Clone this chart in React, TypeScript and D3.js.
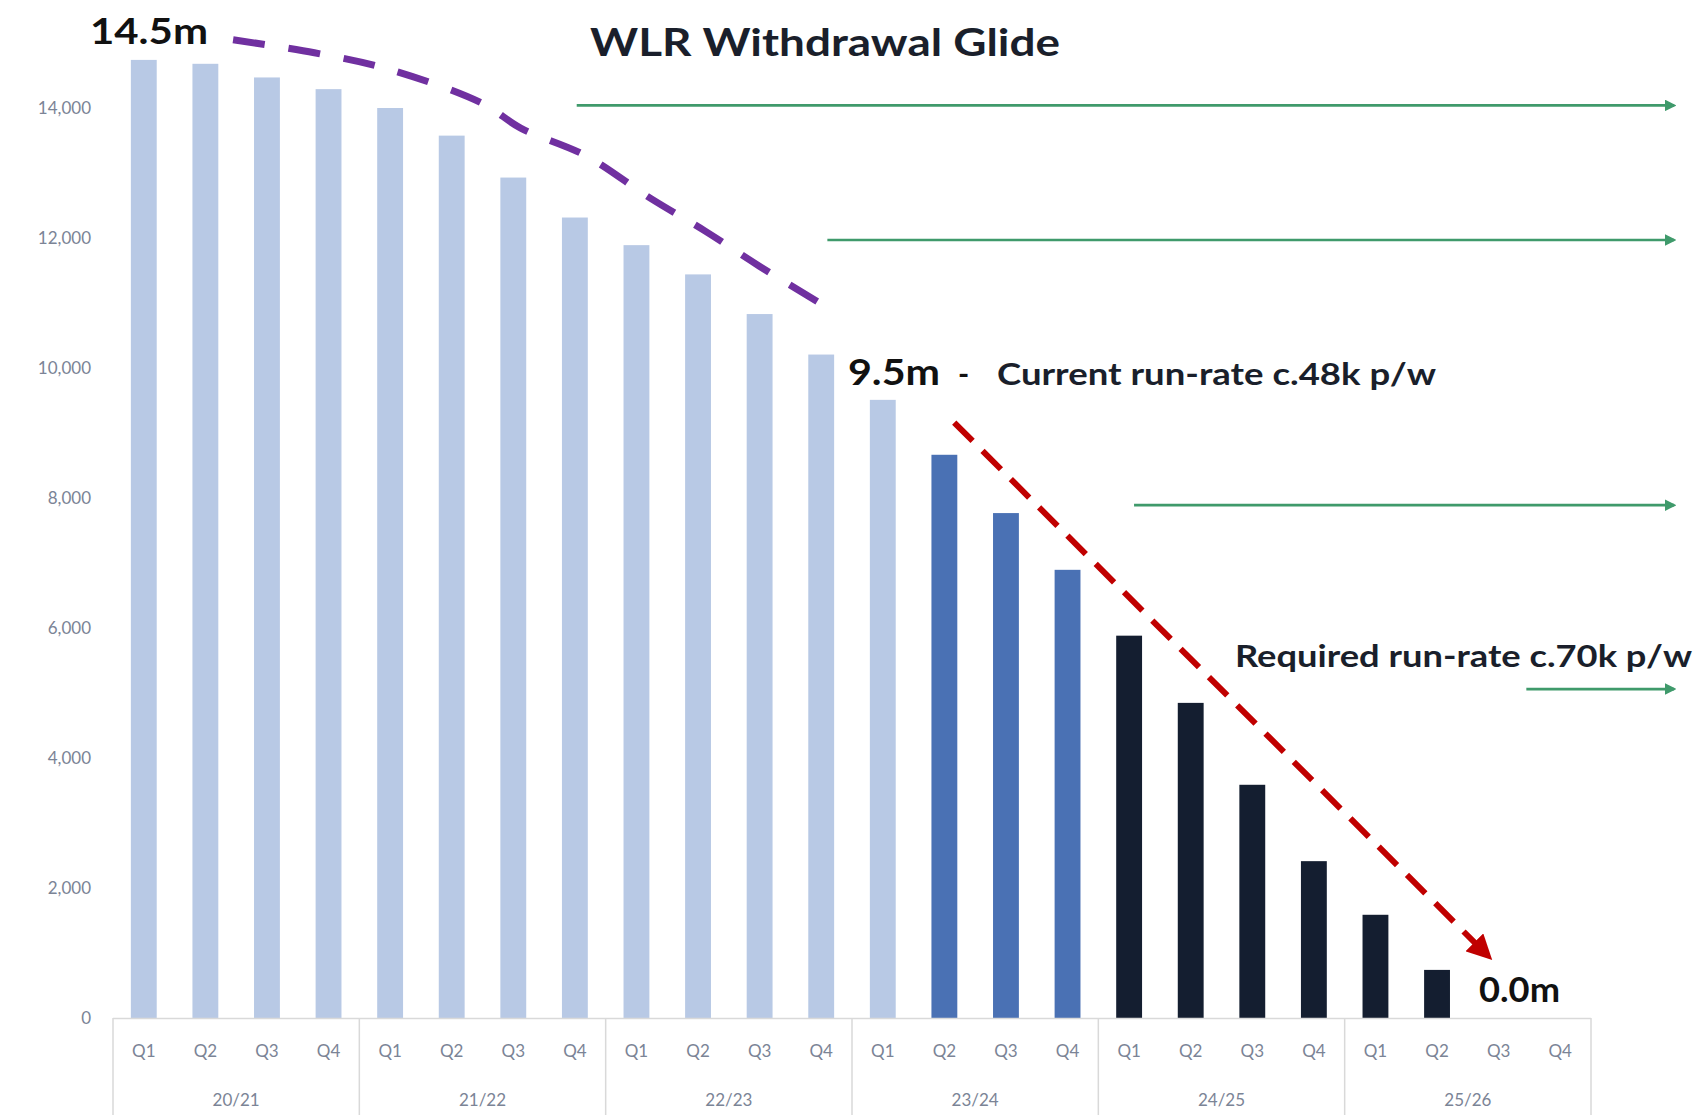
import React from 'react';
import * as d3 from 'd3';

// Chart data
const years = ['20/21', '21/22', '22/23', '23/24', '24/25', '25/26'];
const quarters = ['Q1', 'Q2', 'Q3', 'Q4'];
const lines = [
  14740, 14680, 14470, 14290, 14000, 13575, 12930, 12315, 11890, 11440, 10830, 10207,
  9510, 8665, 7768, 6895, 5882, 4848, 3588, 2413, 1588, 740, 0, 0,
];
// colour phase per bar: 0 = actual, 1 = 23/24 forecast, 2 = required glide
const phase = [0, 0, 0, 0, 0, 0, 0, 0, 0, 0, 0, 0, 0, 1, 1, 1, 2, 2, 2, 2, 2, 2, 2, 2];
const yTicks = [0, 2000, 4000, 6000, 8000, 10000, 12000, 14000];

// hand-drawn annotations, in (bar index, value) terms
const glideIdx = [1.45, 2.77, 4.0, 5.5, 6.12, 7.17, 8.23, 9.11, 9.99, 11.13];
const glideVal = [15050, 14850, 14590, 14070, 13690, 13270, 12610, 12110, 11570, 10910];
const requiredIdx = [13.16, 21.78];
const requiredVal = [9160, 1000];
const greenStart = [7.03, 11.1, 16.08, 22.45];
const greenEnd = 24.98;
const greenVal = [14040, 11970, 7890, 5060];

const colors = ['#b8c9e5', '#4a71b4', '#141e30'];
const font = 'Lato, "Open Sans", sans-serif';

const W = 1699;
const H = 1115;
const left = 113;
const right = 1591;
const base = 1018;

const App = () => {
  const cats = d3.range(lines.length);
  const x = d3.scaleBand<number>().domain(cats).range([left, right]).paddingInner(0.58).paddingOuter(0.29);
  const xi = d3.scaleLinear().domain([-0.5, lines.length - 0.5]).range([left, right]);
  const y = d3.scaleLinear().domain([0, 14000]).range([base, 108]);
  const fmt = d3.format(',');
  const step = x.step();

  const glide = d3
    .line<number>()
    .x((d) => xi(glideIdx[d]))
    .y((d) => y(glideVal[d]))
    .curve(d3.curveCatmullRom)(d3.range(glideIdx.length));

  return (
    <svg width={W} height={H} style={{ position: 'absolute', left: 0, top: 0, background: '#fff' }}>
      <defs>
        <marker id="redHead" viewBox="0 0 10 10" refX="6" refY="5" markerWidth="4.2" markerHeight="4.2" orient="auto" markerUnits="strokeWidth">
          <path d="M0,0 L10,5 L0,10 z" fill="#c00000" />
        </marker>
        <marker id="greenHead" viewBox="0 0 10 10" refX="8" refY="5" markerWidth="4.5" markerHeight="4.5" orient="auto" markerUnits="strokeWidth">
          <path d="M0,0 L10,5 L0,10 z" fill="#3f9a6b" />
        </marker>
      </defs>

      {/* y axis labels */}
      {yTicks.map((t) => (
        <text key={t} x={91} y={y(t)} dy="0.35em" textAnchor="end" fontFamily={font} fontSize={17} fill="#7b8496">
          {fmt(t)}
        </text>
      ))}

      {/* bars */}
      {cats.map((i) => (
        <rect key={i} x={x(i)} y={y(lines[i])} width={x.bandwidth()} height={base - y(lines[i])} fill={colors[phase[i]]} />
      ))}

      {/* category axis table */}
      <line x1={left} x2={right} y1={base + 0.5} y2={base + 0.5} stroke="#d9d9d9" strokeWidth={1.5} />
      {d3.range(years.length + 1).map((g) => (
        <line key={g} x1={left + g * 4 * step} x2={left + g * 4 * step} y1={base} y2={H} stroke="#d9d9d9" strokeWidth={1.5} />
      ))}
      {cats.map((i) => (
        <text key={i} x={x(i)! + x.bandwidth() / 2} y={1051} dy="0.35em" textAnchor="middle" fontFamily={font} fontSize={17} fill="#7b8496">
          {quarters[i % 4]}
        </text>
      ))}
      {years.map((yr, g) => (
        <text key={yr} x={left + (g * 4 + 2) * step} y={1100} dy="0.35em" textAnchor="middle" fontFamily={font} fontSize={17} fill="#7b8496">
          {yr}
        </text>
      ))}

      {/* current glide (purple) */}
      <path d={glide!} fill="none" stroke="#7030a0" strokeWidth={7} strokeDasharray="32 24" strokeLinecap="butt" />

      {/* required glide (red) */}
      <line
        x1={xi(requiredIdx[0])}
        y1={y(requiredVal[0])}
        x2={xi(requiredIdx[1])}
        y2={y(requiredVal[1])}
        stroke="#c00000"
        strokeWidth={6}
        strokeDasharray="26 14"
        markerEnd="url(#redHead)"
      />

      {/* green run-rate arrows */}
      {greenStart.map((s, k) => (
        <line
          key={k}
          x1={xi(s)}
          x2={xi(greenEnd) - 8}
          y1={y(greenVal[k])}
          y2={y(greenVal[k])}
          stroke="#3f9a6b"
          strokeWidth={2.6}
          markerEnd="url(#greenHead)"
        />
      ))}

      {/* text annotations */}
      <text x={90} y={44} fontFamily={font} fontWeight={700} fontSize={36} fill="#111" textLength={118} lengthAdjust="spacingAndGlyphs">
        14.5m
      </text>
      <text x={590} y={56} fontFamily={font} fontWeight={700} fontSize={38} fill="#1a1f2b" textLength={470} lengthAdjust="spacingAndGlyphs">
        WLR Withdrawal Glide
      </text>
      <text x={848} y={385} fontFamily={font} fontWeight={700} fontSize={36} fill="#111" textLength={92} lengthAdjust="spacingAndGlyphs">
        9.5m
      </text>
      <text x={958} y={385} fontFamily={font} fontWeight={700} fontSize={30} fill="#111">
        -
      </text>
      <text x={997} y={385} fontFamily={font} fontWeight={700} fontSize={31} fill="#1a1f2b" textLength={439} lengthAdjust="spacingAndGlyphs">
        Current run-rate c.48k p/w
      </text>
      <text x={1235} y={667} fontFamily={font} fontWeight={700} fontSize={31} fill="#1a1f2b" textLength={457} lengthAdjust="spacingAndGlyphs">
        Required run-rate c.70k p/w
      </text>
      <text x={1479} y={1002} fontFamily={font} fontWeight={700} fontSize={34} fill="#111" textLength={81} lengthAdjust="spacingAndGlyphs">
        0.0m
      </text>
    </svg>
  );
};

export default App;
